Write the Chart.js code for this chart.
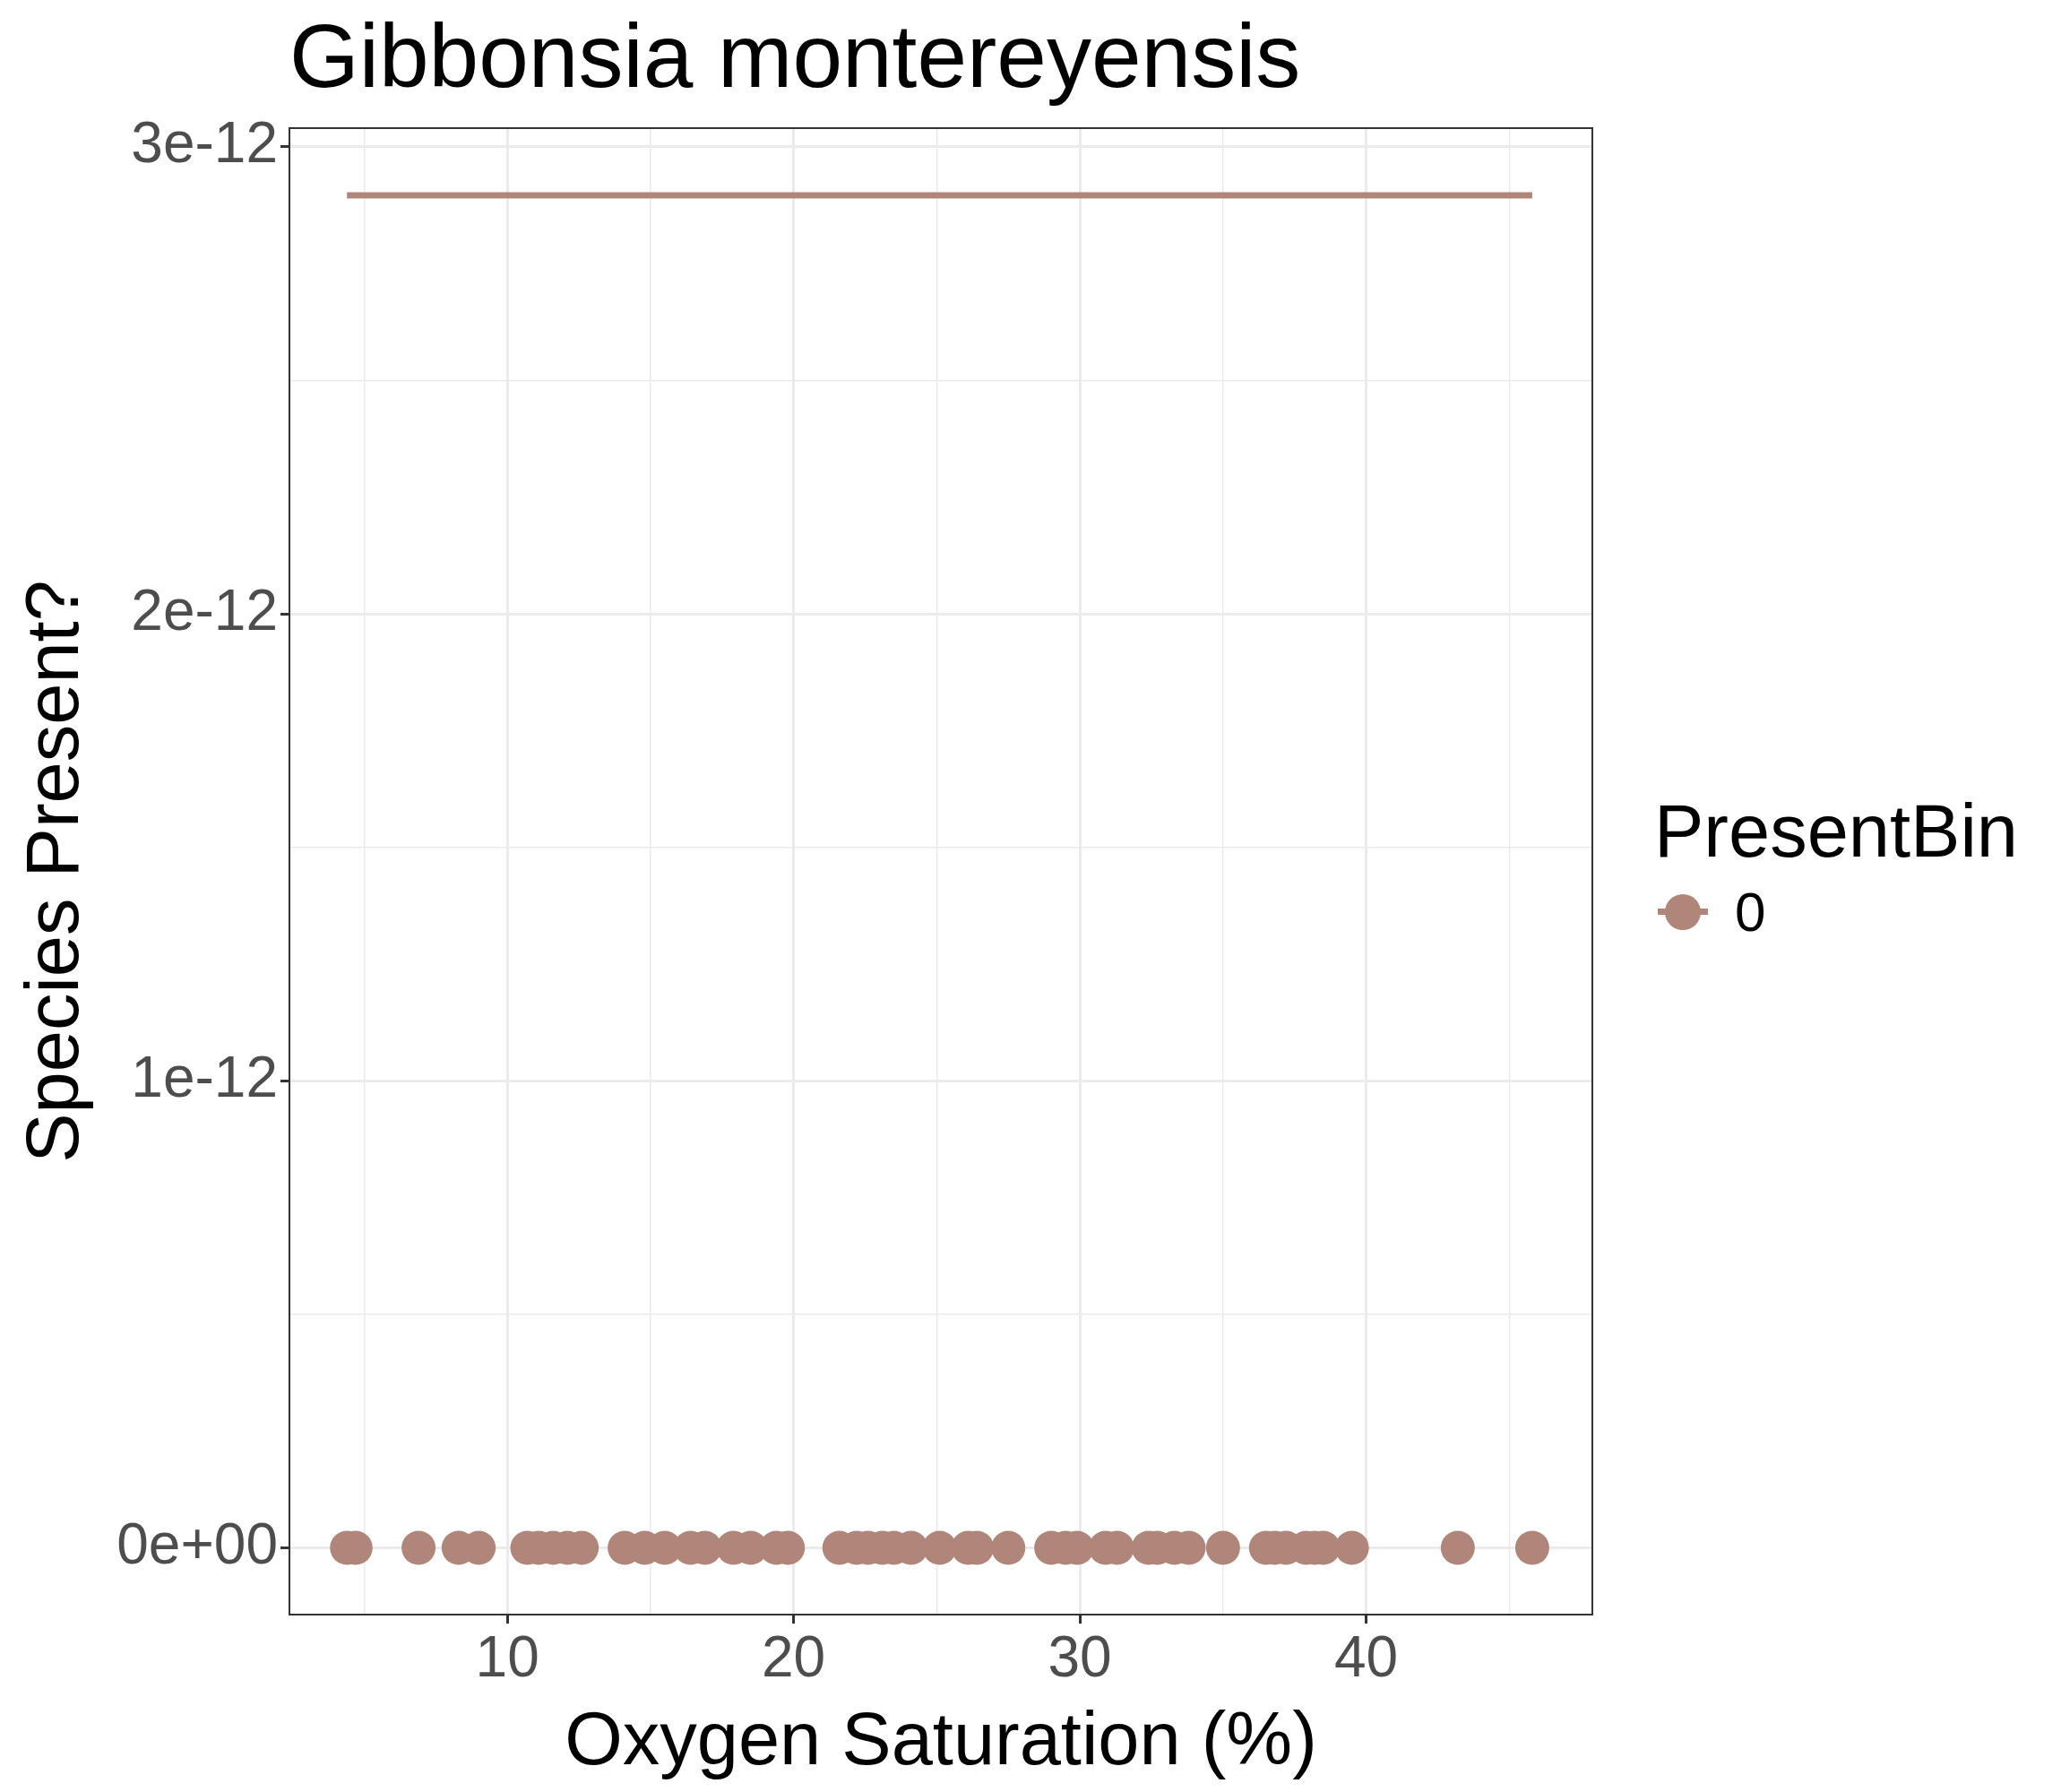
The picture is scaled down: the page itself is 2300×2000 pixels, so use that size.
<!DOCTYPE html>
<html>
<head>
<meta charset="utf-8">
<script src="https://cdn.jsdelivr.net/npm/chart.js@4"></script>
<style>
  body { margin: 0; background: #fff; font-family: "Liberation Sans", Arial, sans-serif; }
  #wrap { position: relative; width: 2300px; height: 2000px; }
  #legend { position: absolute; left: 1846px; top: 880px; color: #000; }
  #legend .title { font-size: 83px; line-height: 96px; }
  #legend .row { display: flex; align-items: center; font-size: 62px; margin-top: 6px; }
  #legend .key { position: relative; width: 64px; height: 64px; margin-right: 26px; }
  #legend .key .ln { position: absolute; left: 4px; right: 4px; top: 28px; height: 7px; background: #B0857A; }
  #legend .key .pt { position: absolute; left: 12px; top: 12px; width: 40px; height: 40px; border-radius: 50%; background: #B0857A; }
</style>
</head>
<body>
<div id="wrap">
  <canvas id="chart" width="2300" height="2000"></canvas>
  <div id="legend">
    <div class="title">PresentBin</div>
    <div class="row"><div class="key"><div class="ln"></div><div class="pt"></div></div>0</div>
  </div>
</div>
<script>
const oxygen = [4.4, 4.7, 6.9, 8.3, 9.0, 10.7, 11.1, 11.6, 12.1, 12.6, 14.1, 14.8, 15.5, 16.4, 16.9,
  17.9, 18.5, 19.4, 19.8, 21.6, 22.2, 22.6, 23.1, 23.5, 24.1, 25.1, 26.1, 26.4, 27.5, 29.0, 29.5,
  29.9, 30.9, 31.3, 32.4, 32.7, 33.3, 33.8, 35.0, 36.5, 36.8, 37.2, 37.9, 38.2, 38.5, 39.5, 43.2, 45.8];
const present = oxygen.map(() => 0);
const fitX = [4.4, 45.8];
const fitY = [2.896e-12, 2.896e-12];
const xTicks = [5, 10, 15, 20, 25, 30, 35, 40, 45];
const yTicks = [0, 0.5e-12, 1e-12, 1.5e-12, 2e-12, 2.5e-12, 3e-12];
const color = "#B0857A";

const titlePlugin = {
  id: "plotTitle",
  afterDraw(chart) {
    const c = chart.ctx;
    c.save();
    c.fillStyle = "#000";
    c.font = "100px 'Liberation Sans', Arial, sans-serif";
    c.textBaseline = "alphabetic";
    c.fillText("Gibbonsia montereyensis", chart.chartArea.left, 97);
    c.strokeStyle = "#333";
    c.lineWidth = 2;
    const a = chart.chartArea;
    c.strokeRect(a.left, a.top, a.right - a.left, a.bottom - a.top);
    c.restore();
  }
};

new Chart(document.getElementById("chart"), {
  type: "scatter",
  data: {
    datasets: [
      {
        type: "line",
        data: fitX.map((x, i) => ({ x: x, y: fitY[i] })),
        borderColor: color,
        borderWidth: 7,
        pointRadius: 0
      },
      {
        data: oxygen.map((x, i) => ({ x: x, y: present[i] })),
        backgroundColor: color,
        borderWidth: 0,
        pointRadius: 19
      }
    ]
  },
  options: {
    responsive: false,
    devicePixelRatio: 1,
    animation: false,
    layout: { padding: { top: 143, right: 523, left: 10 } },
    plugins: { legend: { display: false }, tooltip: { enabled: false } },
    scales: {
      x: {
        type: "linear",
        min: 2.39, max: 47.9,
        afterBuildTicks(s) { s.ticks = xTicks.map(v => ({ value: v })); },
        afterFit(s) { s.height = 198; },
        ticks: {
          autoSkip: false,
          maxRotation: 0,
          color: "#4d4d4d",
          font: { size: 64, family: "'Liberation Sans', Arial, sans-serif" },
          callback: v => (v % 10 === 0 ? String(v) : "")
        },
        border: { display: false },
        grid: {
          color: "#ebebeb",
          lineWidth: ctx => (ctx.tick && ctx.tick.value % 10 === 0 ? 3 : 1.5),
          tickLength: 10,
          tickColor: ctx => (ctx.tick && ctx.tick.value % 10 === 0 ? "#333" : "rgba(0,0,0,0)"),
          tickWidth: 3
        },
        title: {
          display: true,
          text: "Oxygen Saturation (%)",
          color: "#000",
          font: { size: 83, family: "'Liberation Sans', Arial, sans-serif" },
          padding: { top: 0 }
        }
      },
      y: {
        min: -0.143e-12, max: 3.04e-12,
        afterBuildTicks(s) { s.ticks = yTicks.map(v => ({ value: v })); },
        afterFit(s) { s.width = 313; },
        ticks: {
          autoSkip: false,
          color: "#4d4d4d",
          font: { size: 64, family: "'Liberation Sans', Arial, sans-serif" },
          callback: v => {
            const n = Math.round(v * 1e12 * 10) / 10;
            if (n % 1 !== 0) return "";
            return n === 0 ? "0e+00" : n + "e-12";
          }
        },
        border: { display: false },
        grid: {
          color: "#ebebeb",
          lineWidth: ctx => (ctx.tick && Math.round(ctx.tick.value * 1e13) % 10 === 0 ? 3 : 1.5),
          tickLength: 10,
          tickColor: ctx => (ctx.tick && Math.round(ctx.tick.value * 1e13) % 10 === 0 ? "#333" : "rgba(0,0,0,0)"),
          tickWidth: 3
        },
        title: {
          display: true,
          text: "Species Present?",
          color: "#000",
          font: { size: 83, family: "'Liberation Sans', Arial, sans-serif" },
          padding: { bottom: 4 }
        }
      }
    }
  },
  plugins: [titlePlugin]
});
</script>
</body>
</html>
